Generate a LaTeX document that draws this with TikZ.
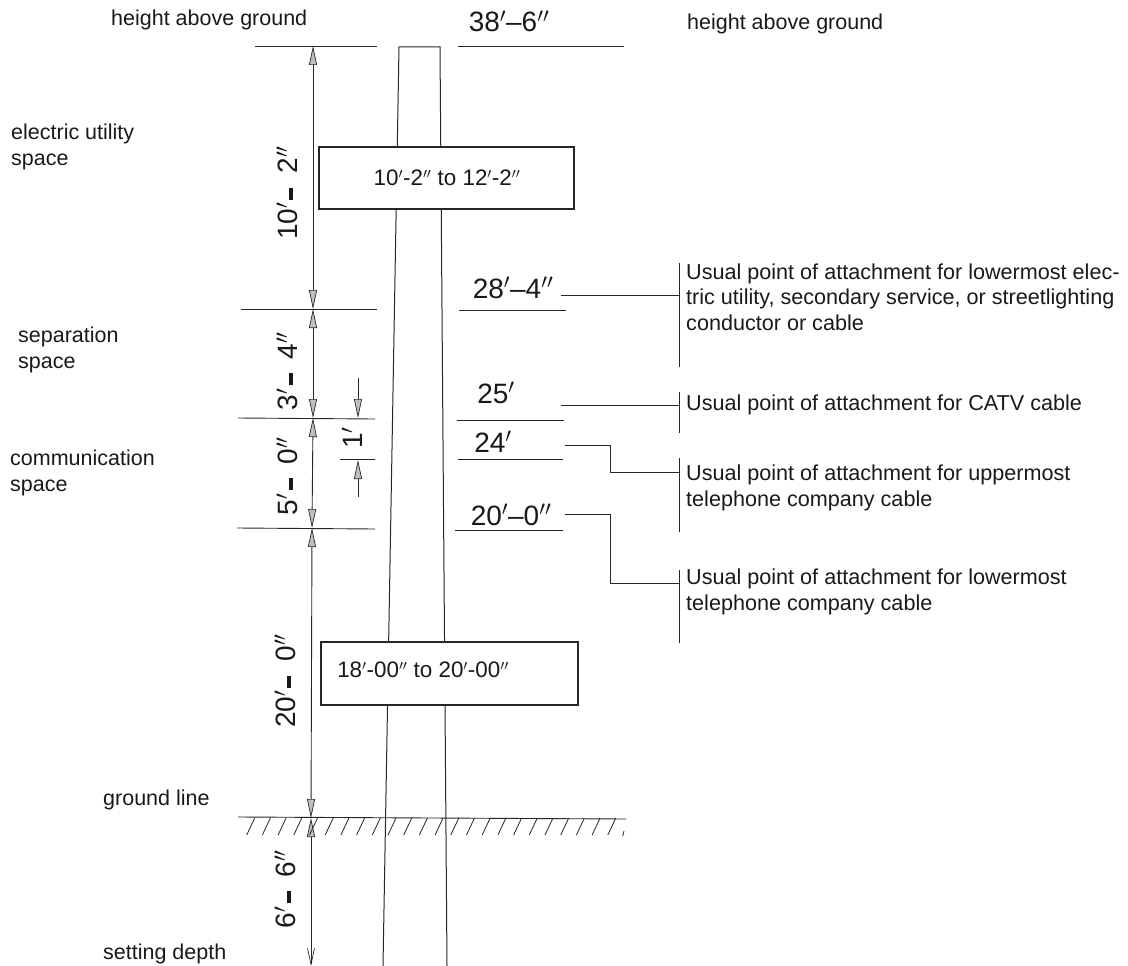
\documentclass[tikz,border=0pt]{standalone}
\usepackage{fontspec}
\setmainfont{Liberation Sans}
\usetikzlibrary{arrows.meta}
\newcommand{\ft}{$'$}
\newcommand{\inch}{$''$}
\newcommand{\dimdash}{\hspace{3pt}\raisebox{4pt}{\rule{12pt}{4.5pt}}\hspace{14pt}}
\tikzset{
  x=1pt,y=-1pt,
  thinline/.style={line width=0.9pt,black!85},
  poleline/.style={line width=1pt,black!85},
  heavybox/.style={draw=black!85,line width=2.3pt,fill=white},
  dimline/.style={line width=0.9pt,black!85,{Triangle[length=19pt,width=8pt,fill=black!25,color=black!85,line width=0.7pt]}-{Triangle[length=19pt,width=8pt,fill=black!25,color=black!85,line width=0.7pt]}},
  dimlast/.style={line width=0.9pt,black!85,{Triangle[length=19pt,width=8pt,fill=black!25,color=black!85,line width=0.7pt]}-{Straight Barb[length=16pt,width=7pt,line width=0.7pt]}},
  dimone/.style={line width=0.9pt,black!85,-{Triangle[length=19pt,width=8pt,fill=black!25,color=black!85,line width=0.7pt]}},
  lab/.style={anchor=west,align=left,inner sep=0pt,font=\fontsize{21.5}{25.5}\selectfont,text=black!90},
  note/.style={anchor=west,align=left,inner sep=0pt,font=\fontsize{21.6}{25.5}\selectfont,text=black!90},
  elev/.style={anchor=base,inner sep=0pt,font=\fontsize{28}{30}\selectfont,text=black!90},
  dimtext/.style={rotate=90,inner sep=0pt,font=\fontsize{28}{30}\selectfont,text=black!90},
  boxtext/.style={inner sep=0pt,font=\fontsize{22.4}{26}\selectfont,text=black!90},
}
\begin{document}
\begin{tikzpicture}
\useasboundingbox (0,0) rectangle (1128,966);
% pole
\coordinate (ptl) at (399,47);
\coordinate (ptr) at (440,47);
\coordinate (pbl) at (383,966);
\coordinate (pbr) at (447,966);
\draw[poleline] (pbl) -- (ptl) -- (ptr) -- (pbr);
% boxes
\node[heavybox,inner sep=0pt,anchor=north west,text width=255pt,minimum height=62pt] (boxa) at (318,146) {};
\node[boxtext] (boxatext) at (447,178) {10\ft-2\inch{} to 12\ft-2\inch};
\node[heavybox,inner sep=0pt,anchor=north west,text width=257pt,minimum height=63pt] (boxb) at (320,640.5) {};
\node[boxtext] (boxbtext) at (423,670) {18\ft-00\inch{} to 20\ft-00\inch};
% left reference lines
\coordinate (la1) at (255,46);  \coordinate (la2) at (377,46);
\coordinate (lb1) at (241,309); \coordinate (lb2) at (377,309);
\coordinate (lc1) at (238,418); \coordinate (lc2) at (375,419);
\coordinate (ld1) at (340,459); \coordinate (ld2) at (375,459);
\coordinate (le1) at (237,528); \coordinate (le2) at (375,529);
\foreach \n in {a,b,c,d,e} \draw[thinline] (l\n1) -- (l\n2);
% right reference lines
\coordinate (ra1) at (458,46);  \coordinate (ra2) at (624,46);
\coordinate (rb1) at (459,310); \coordinate (rb2) at (566,310);
\coordinate (rc1) at (457,420); \coordinate (rc2) at (564,420);
\coordinate (rd1) at (458,459); \coordinate (rd2) at (563,459);
\coordinate (re1) at (455,530); \coordinate (re2) at (563,530);
\foreach \n in {a,b,c,d,e} \draw[thinline] (r\n1) -- (r\n2);
% dimension chain
\coordinate (d0) at (313,46);
\coordinate (d1) at (313,309);
\coordinate (d2) at (313,418);
\coordinate (d3) at (312,528);
\coordinate (d4) at (311,818);
\coordinate (d5) at (311,966);
\draw[dimline] (d0) -- (d1);
\draw[dimline] (d1) -- (d2);
\draw[dimline] (d2) -- (d3);
\draw[dimline] (d3) -- (d4);
\draw[dimlast] (d4) -- (d5);
% one-foot arrows
\coordinate (oa0) at (358,378); \coordinate (oa1) at (358,418);
\coordinate (ob0) at (358,497); \coordinate (ob1) at (358,460);
\draw[dimone] (oa0) -- (oa1);
\draw[dimone] (ob0) -- (ob1);
% ground
\coordinate (g1) at (238,817); \coordinate (g2) at (626,819);
\draw[thinline] (g1) -- (g2);
\foreach \i in {0,...,23} \draw[line width=0.8pt,black!85] ({246.7+15.7*\i},835) -- ({254.7+15.7*\i},818);
\draw[line width=0.8pt,black!85] (622.7,836) -- (624,831);
% leaders
\coordinate (t1a) at (561,295); \coordinate (t1b) at (680,295);
\coordinate (t2a) at (561,405); \coordinate (t2b) at (680,405);
\coordinate (t3a) at (565,445); \coordinate (t3b) at (680,472);
\coordinate (t4a) at (565,514); \coordinate (t4b) at (680,583);
\draw[thinline] (t1a) -- (t1b);
\draw[thinline] (t2a) -- (t2b);
\draw[thinline] (t3a) -- (610,445) -- (610,472) -- (t3b);
\draw[thinline] (t4a) -- (610,514) -- (610,583) -- (t4b);
\coordinate (v1a) at (679,263); \coordinate (v1b) at (679,367);
\coordinate (v2a) at (679,392); \coordinate (v2b) at (679,433);
\coordinate (v3a) at (679,458); \coordinate (v3b) at (679,532);
\coordinate (v4a) at (679,570); \coordinate (v4b) at (679,643);
\foreach \n in {1,2,3,4} \draw[thinline] (v\n a) -- (v\n b);
% left labels
\node[lab] (l1) at (111,20) {height above ground};
\node[lab] (l2) at (11,147) {electric utility\\space};
\node[lab] (l3) at (18,350) {separation\\space};
\node[lab] (l4) at (10,473) {communication\\space};
\node[lab] (l5) at (103,800) {ground line};
\node[lab] (l6) at (103,954) {setting depth};
\node[lab] (l7) at (687,24) {height above ground};
% elevations
\node[elev] (e1) at (509,32) {38\ft--6\inch};
\node[elev] (e2) at (513,298) {28\ft--4\inch};
\node[elev] (e3) at (496,403) {25\ft};
\node[elev] (e4) at (493,452) {24\ft};
\node[elev] (e5) at (511,525) {20\ft--0\inch};
% dimension texts
\node[dimtext] (x1) at (287,193) {10\ft\dimdash 2\inch};
\node[dimtext] (x2) at (287,371) {3\ft\dimdash 4\inch};
\node[dimtext] (x3) at (287,476) {5\ft\dimdash 0\inch};
\node[dimtext] (x4) at (285,681) {20\ft\dimdash 0\inch};
\node[dimtext] (x5) at (285,889) {6\ft\dimdash 6\inch};
\node[dimtext] (x6) at (352,438) {1\ft};
% notes
\node[note] (n1) at (686,297) {Usual point of attachment for lowermost elec-\\tric utility, secondary service, or streetlighting\\conductor or cable};
\node[note] (n2) at (686,405) {Usual point of attachment for CATV cable};
\node[note] (n3) at (686,488) {Usual point of attachment for uppermost\\telephone company cable};
\node[note] (n4) at (686,592) {Usual point of attachment for lowermost\\telephone company cable};
\end{tikzpicture}
\end{document}
